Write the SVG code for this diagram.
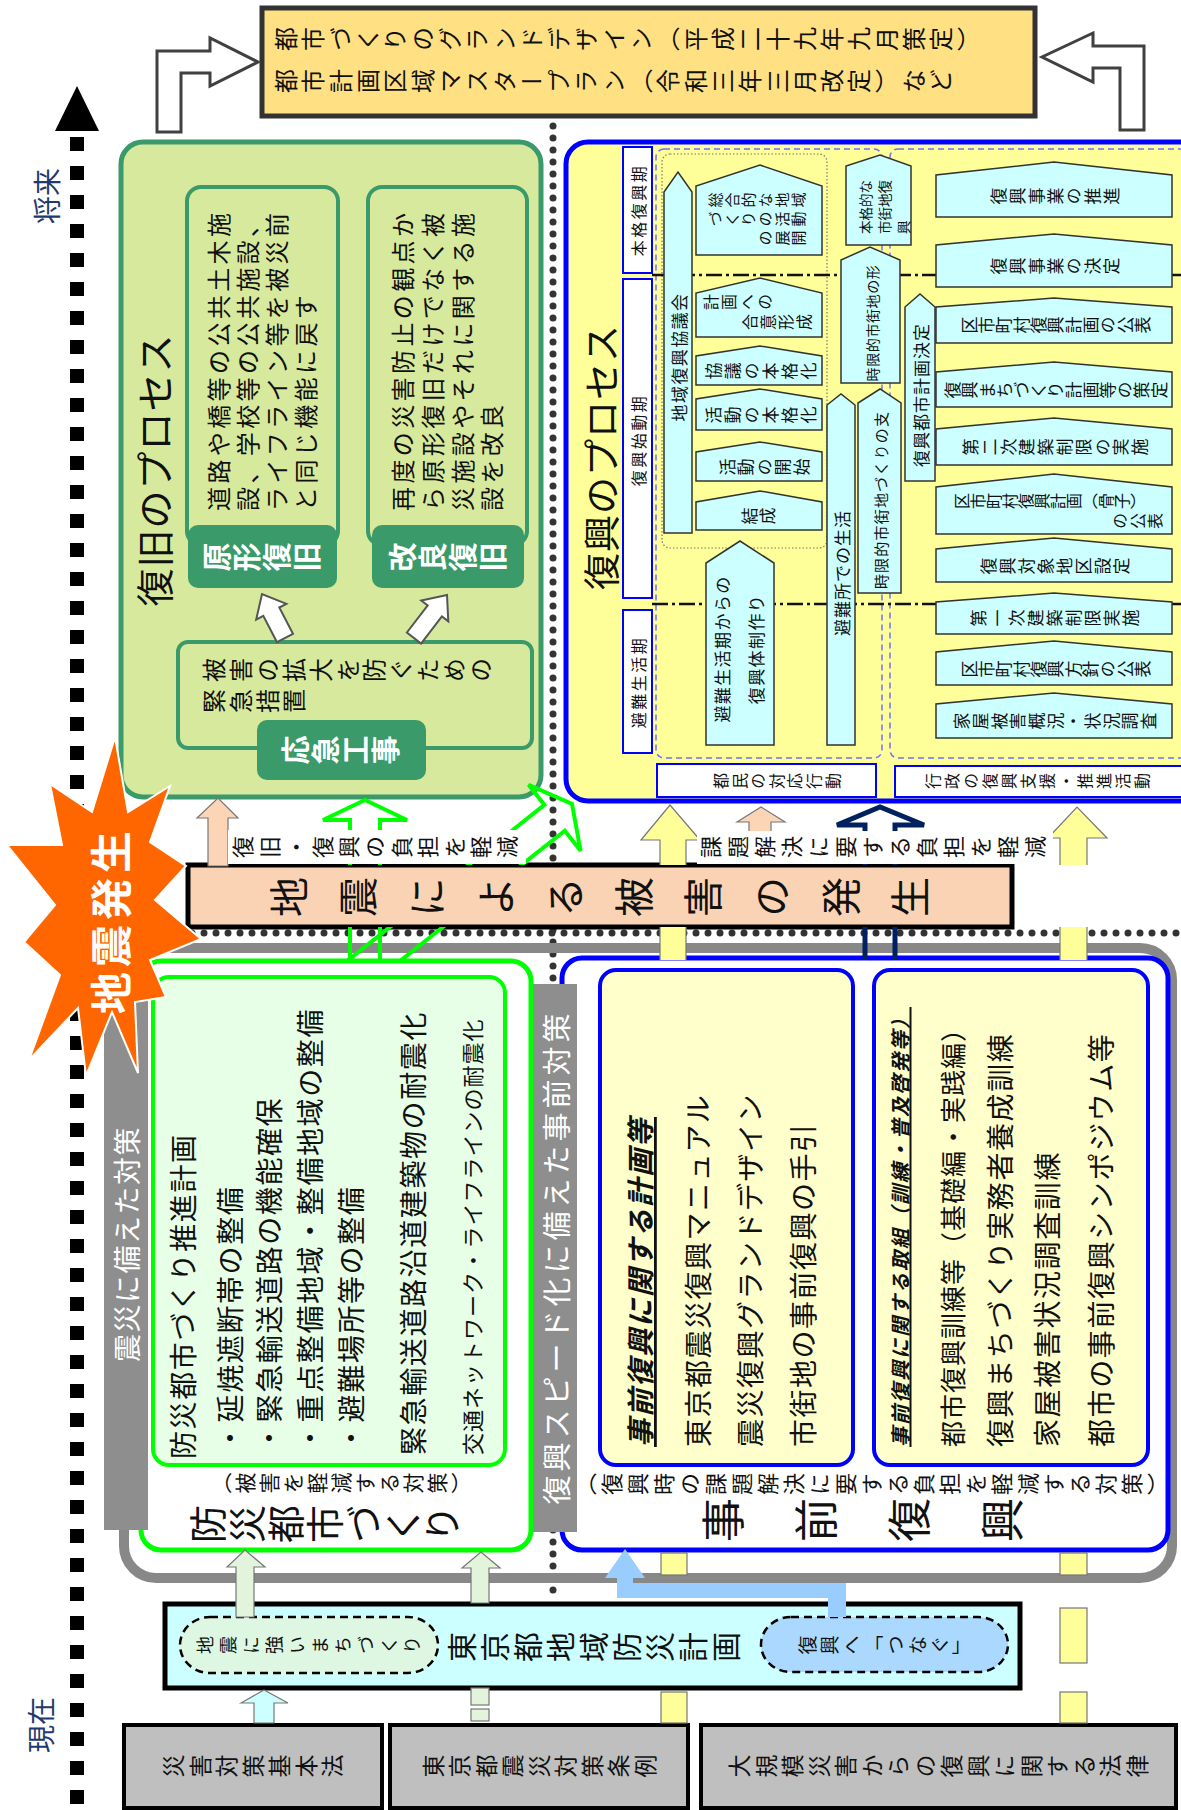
<svg xmlns="http://www.w3.org/2000/svg" width="1181" height="1810" viewBox="0 0 1181 1810">
<defs>
<style>
text{font-family:"Noto Sans CJK JP","Noto Sans CJK SC",sans-serif;fill:#111;}
.v{writing-mode:vertical-rl;}
.h{dominant-baseline:central;}
.m{text-anchor:middle;}
.e{text-anchor:end;}
.w{fill:#fff;}
.b{font-weight:bold;}
.nv{fill:#1F3A6E;}
.sh{fill:#CCFFFF;stroke:#333;stroke-width:1.5;}
.gl{fill:#3A9A6A;}
.gb{fill:#D7E99C;stroke:#3A9A6A;stroke-width:4;}
.pl{fill:#fff;stroke:#0000FF;stroke-width:2;}
.dot{fill:none;stroke:#333;stroke-width:7;stroke-linecap:round;stroke-dasharray:0 12;}
.ya{fill:#FFFF99;stroke:#777;stroke-width:1.2;}
.lg{fill:#E2F5DC;stroke:#777;stroke-width:1.2;}
.law{fill:#BFBFBF;stroke:#000;stroke-width:4;}
.gr{fill:#8E8E8E;}
.it{font-style:italic;font-weight:bold;text-decoration:underline;}
</style>
<clipPath id="noPeach"><rect x="0" y="0" width="1181" height="865"/><rect x="0" y="927" width="1181" height="33"/></clipPath>
</defs>
<rect width="1181" height="1810" fill="#fff"/>

<g id="timeline">
<polygon points="77,86 55,131 99,131" fill="#000"/>
<line x1="77" y1="137" x2="77" y2="1810" stroke="#000" stroke-width="14" stroke-dasharray="14 15"/>
<text class="h m nv" font-size="28" transform="translate(46,196) rotate(-90)">将来</text>
<text class="h m nv" font-size="28" transform="translate(40,1725) rotate(-90)">現在</text>
</g>

<g id="separators">
<line class="dot" x1="553" y1="126" x2="553" y2="1600"/>
<line class="dot" x1="192" y1="933" x2="1181" y2="933"/>
</g>

<g id="grand-design">
<rect x="262" y="8" width="773" height="108" fill="#FFE083" stroke="#333" stroke-width="5"/>
<text class="v" font-size="24" letter-spacing="3.3" transform="translate(274,39) rotate(-90)">都市づくりのグランドデザイン（平成二十九年九月策定）</text>
<text class="v" font-size="24" letter-spacing="3.3" transform="translate(274,81) rotate(-90)">都市計画区域マスタープラン（令和三年三月改定）など</text>
</g>

<g id="fukkyu-process">
<rect x="121" y="142" width="420" height="655" rx="22" fill="#D7E99C" stroke="#3A9A6A" stroke-width="5"/>
<text class="h m" font-size="38" letter-spacing="1" transform="translate(152,470) rotate(-90)">復旧のプロセス</text>
<rect class="gb" x="187" y="187" width="151" height="358" rx="14"/>
<text class="h" font-size="24" letter-spacing="3.4" transform="translate(217,511) rotate(-90)">道路や橋等の公共土木施</text>
<text class="h" font-size="24" letter-spacing="3.4" transform="translate(246,511) rotate(-90)">設、学校等の公共施設、</text>
<text class="h" font-size="24" letter-spacing="3.4" transform="translate(275,511) rotate(-90)">ライフライン等を被災前</text>
<text class="h" font-size="24" letter-spacing="3.4" transform="translate(304,511) rotate(-90)">と同じ機能に戻す</text>
<rect class="gl" x="188" y="525" width="149" height="63" rx="10"/>
<text class="v m w b" font-size="29" letter-spacing="1" transform="translate(262,557) rotate(-90)">原形復旧</text>
<rect class="gb" x="368" y="187" width="159" height="358" rx="14"/>
<text class="h" font-size="24" letter-spacing="3.4" transform="translate(401,511) rotate(-90)">再度の災害防止の観点か</text>
<text class="h" font-size="24" letter-spacing="3.4" transform="translate(431,511) rotate(-90)">ら原形復旧だけでなく被</text>
<text class="h" font-size="24" letter-spacing="3.4" transform="translate(461,511) rotate(-90)">災施設やそれに関する施</text>
<text class="h" font-size="24" letter-spacing="3.4" transform="translate(490,511) rotate(-90)">設を改良</text>
<rect class="gl" x="372" y="525" width="152" height="63" rx="10"/>
<text class="v m w b" font-size="29" letter-spacing="1" transform="translate(448,557) rotate(-90)">改良復旧</text>
<rect class="gb" x="178" y="642" width="354" height="106" rx="10"/>
<text class="v" font-size="24" letter-spacing="2.7" transform="translate(202,670) rotate(-90)">被害の拡大を防ぐための</text>
<text class="v" font-size="24" letter-spacing="2.7" transform="translate(202,701) rotate(-90)">緊急措置</text>
<rect class="gl" x="257" y="720" width="169" height="60" rx="10"/>
<text class="v m w b" font-size="29" letter-spacing="1" transform="translate(341,750) rotate(-90)">応急工事</text>
</g>

<g id="fukko-process">
<rect x="566" y="142" width="640" height="659" rx="22" fill="#FFFF99" stroke="#0000FF" stroke-width="5"/>
<text class="h m" font-size="37" letter-spacing="1" transform="translate(600,457) rotate(-90)">復興のプロセス</text>
<rect class="pl" x="623" y="147" width="29" height="126"/>
<text class="h m" font-size="16" letter-spacing="2.5" transform="translate(637.5,210) rotate(-90)">本格復興期</text>
<rect class="pl" x="623" y="279" width="29" height="319"/>
<text class="h m" font-size="16" letter-spacing="2.5" transform="translate(637.5,440) rotate(-90)">復興始動期</text>
<rect class="pl" x="623" y="610" width="29" height="143"/>
<text class="h m" font-size="16" letter-spacing="2.5" transform="translate(637.5,682) rotate(-90)">避難生活期</text>
<rect x="656" y="149" width="226" height="609" rx="8" fill="none" stroke="#7070FF" stroke-width="1.5" stroke-dasharray="6 4"/>
<rect x="890" y="149" width="310" height="609" rx="8" fill="none" stroke="#7070FF" stroke-width="1.5" stroke-dasharray="6 4"/>
<rect x="662" y="154" width="165" height="394" rx="8" fill="none" stroke="#777" stroke-width="1.2" stroke-dasharray="1.5 2"/>
<line x1="652" y1="275" x2="1181" y2="275" stroke="#111" stroke-width="2.5" stroke-dasharray="16 4 3 4"/>
<line x1="652" y1="604" x2="1181" y2="604" stroke="#111" stroke-width="2.5" stroke-dasharray="16 4 3 4"/>

<polygon class="sh" points="664,533 664,192 678,172 692,192 692,533"/>
<text class="h m" font-size="17" letter-spacing="1.4" transform="translate(678,357) rotate(-90)">地域復興協議会</text>
<polygon class="sh" points="696,255 696,186 760,165 822,186 822,255"/>
<text class="v e" font-size="15" letter-spacing="1.7" transform="translate(808,200) rotate(-90)">総合的な地域</text>
<text class="v e" font-size="15" letter-spacing="1.7" transform="translate(808,219) rotate(-90)">づくりの活動</text>
<text class="v e" font-size="15" letter-spacing="1.7" transform="translate(808,238) rotate(-90)">の展開</text>
<polygon class="sh" points="696,337 696,293 760,278 822,293 822,337"/>
<text class="v" font-size="16" letter-spacing="2" transform="translate(703,302) rotate(-90)">計画への</text>
<text class="v e" font-size="16" letter-spacing="2" transform="translate(814,322) rotate(-90)">合意形成</text>
<polygon class="sh" points="696,385 696,356 760,346 822,356 822,385"/>
<text class="v m" font-size="17" letter-spacing="2" transform="translate(762,371) rotate(-90)">協議の本格化</text>
<polygon class="sh" points="696,430 696,399 760,389 822,399 822,430"/>
<text class="v m" font-size="17" letter-spacing="2" transform="translate(762,415) rotate(-90)">活動の本格化</text>
<polygon class="sh" points="696,481 696,452 760,442 822,452 822,481"/>
<text class="v m" font-size="17" letter-spacing="1.5" transform="translate(765,467) rotate(-90)">活動の開始</text>
<polygon class="sh" points="696,530 696,502 760,491 822,502 822,530"/>
<text class="v m" font-size="17" letter-spacing="1" transform="translate(759,516) rotate(-90)">結成</text>
<polygon class="sh" points="706,745 706,563 740,541 774,563 774,745"/>
<text class="h m" font-size="17" letter-spacing="1.4" transform="translate(721,649) rotate(-90)">避難生活期からの</text>
<text class="h m" font-size="17" letter-spacing="1.4" transform="translate(755,649) rotate(-90)">復興体制作り</text>
<polygon class="sh" points="827,745 827,405 841,394 855,405 855,745"/>
<text class="h m" font-size="17" letter-spacing="1" transform="translate(841,573) rotate(-90)">避難所での生活</text>
<polygon class="sh" points="858,593 858,403 880,389 901,403 901,593"/>
<text class="h m" font-size="15" letter-spacing="1.2" transform="translate(880,500) rotate(-90)">時限的市街地づくりの支</text>
<polygon class="sh" points="841,383 841,260 870,247 900,260 900,383"/>
<text class="h m" font-size="14" letter-spacing="0.6" transform="translate(872,323) rotate(-90)">時限的市街地の形</text>
<polygon class="sh" points="846,245 846,166 880,155 911,166 911,245"/>
<text class="h" font-size="13.5" transform="translate(865,234) rotate(-90)">本格的な</text>
<text class="h" font-size="13.5" transform="translate(884,234) rotate(-90)">市街地復</text>
<text class="h" font-size="13.5" transform="translate(903,234) rotate(-90)">興</text>
<polygon class="sh" points="905,481 905,307 920,294 935,307 935,481"/>
<text class="h m" font-size="17" letter-spacing="1" transform="translate(920,395) rotate(-90)">復興都市計画決定</text>

<polygon class="sh" points="936,217 936,175 1054,162 1172,175 1172,217"/>
<text class="v m" font-size="17" letter-spacing="1.9" transform="translate(1056,196) rotate(-90)">復興事業の推進</text>
<polygon class="sh" points="936,287 936,245 1054,234 1172,245 1172,287"/>
<text class="v m" font-size="17" letter-spacing="1.9" transform="translate(1056,266) rotate(-90)">復興事業の決定</text>
<polygon class="sh" points="936,343 936,307 1054,298 1172,307 1172,343"/>
<text class="v m" font-size="17" letter-spacing="0.3" transform="translate(1056,325) rotate(-90)">区市町村復興計画の公表</text>
<polygon class="sh" points="936,407 936,372 1054,362 1172,372 1172,407"/>
<text class="v m" font-size="17" letter-spacing="0.2" transform="translate(1056,390) rotate(-90)">復興まちづくり計画等の策定</text>
<polygon class="sh" points="936,465 936,429 1054,418 1172,429 1172,465"/>
<text class="v m" font-size="17" letter-spacing="1.8" transform="translate(1056,447) rotate(-90)">第二次建築制限の実施</text>
<polygon class="sh" points="936,534 936,487 1054,474 1172,487 1172,534"/>
<text class="v" font-size="16" transform="translate(954,501) rotate(-90)">区市町村復興計画（骨子）</text>
<text class="v" font-size="16" letter-spacing="1.5" transform="translate(1112,521) rotate(-90)">の公表</text>
<polygon class="sh" points="936,582 936,549 1054,538 1172,549 1172,582"/>
<text class="v m" font-size="17" letter-spacing="2" transform="translate(1056,566) rotate(-90)">復興対象地区設定</text>
<polygon class="sh" points="936,634 936,602 1054,593 1172,602 1172,634"/>
<text class="v m" font-size="17" letter-spacing="2" transform="translate(1056,618) rotate(-90)">第一次建築制限実施</text>
<polygon class="sh" points="936,685 936,652 1054,641 1172,652 1172,685"/>
<text class="v m" font-size="17" letter-spacing="0.3" transform="translate(1056,669) rotate(-90)">区市町村復興方針の公表</text>
<polygon class="sh" points="936,738 936,704 1054,693 1172,704 1172,738"/>
<text class="v m" font-size="17" letter-spacing="1.7" transform="translate(1056,721) rotate(-90)">家屋被害概況・状況調査</text>

<rect class="pl" x="657" y="764" width="219" height="33"/>
<text class="v m" font-size="16" letter-spacing="2.6" transform="translate(778,781) rotate(-90)">都民の対応行動</text>
<rect class="pl" x="895" y="766" width="300" height="31"/>
<text class="v m" font-size="16" letter-spacing="3" transform="translate(1039,781) rotate(-90)">行政の復興支援・推進活動</text>
</g>

<g id="damage">
<rect x="188" y="865" width="824" height="62" fill="#FAD3B4" stroke="#000" stroke-width="5"/>
<text class="v" font-size="40" letter-spacing="29" transform="translate(269,897) rotate(-90)">地震による被害の発生</text>
</g>

<g id="frame">
<rect x="124" y="948" width="1048" height="630" rx="32" fill="none" stroke="#888" stroke-width="10"/>
</g>

<g id="bousai">
<rect x="141" y="961" width="390" height="589" rx="20" fill="#fff" stroke="#00FF00" stroke-width="5"/>
<rect x="153" y="977" width="352" height="488" rx="16" fill="#E6FFE6" stroke="#00FF00" stroke-width="4"/>
<text class="h" font-size="28" letter-spacing="1.6" transform="translate(182,1459) rotate(-90)">防災都市づくり推進計画</text>
<text class="h" font-size="28" letter-spacing="1.6" transform="translate(229,1452) rotate(-90)">・延焼遮断帯の整備</text>
<text class="h" font-size="28" letter-spacing="1.6" transform="translate(268,1452) rotate(-90)">・緊急輸送道路の機能確保</text>
<text class="h" font-size="28" letter-spacing="1.6" transform="translate(309,1452) rotate(-90)">・重点整備地域・整備地域の整備</text>
<text class="h" font-size="28" letter-spacing="1.6" transform="translate(350,1452) rotate(-90)">・避難場所等の整備</text>
<text class="h" font-size="28" letter-spacing="1.6" transform="translate(412,1455) rotate(-90)">緊急輸送道路沿道建築物の耐震化</text>
<text class="h" font-size="22" letter-spacing="1" transform="translate(471,1455) rotate(-90)">交通ネットワーク・ライフラインの耐震化</text>
<text class="v" font-size="21" letter-spacing="3" transform="translate(211,1483) rotate(-90)">（被害を軽減する対策）</text>
<text class="v" font-size="38" letter-spacing="1" transform="translate(189,1524) rotate(-90)">防災都市づくり</text>
</g>

<g id="jizen-fukko">
<rect x="562" y="958" width="606" height="592" rx="20" fill="#fff" stroke="#0000FF" stroke-width="5"/>
<rect x="600" y="970" width="253" height="495" rx="16" fill="#FFFFCC" stroke="#0000FF" stroke-width="4"/>
<text class="h it" font-size="28" letter-spacing="2" transform="translate(639,1447) rotate(-90)">事前復興に関する計画等</text>
<text class="h" font-size="28" letter-spacing="1.5" transform="translate(697,1447) rotate(-90)">東京都震災復興マニュアル</text>
<text class="h" font-size="28" letter-spacing="1.5" transform="translate(749,1447) rotate(-90)">震災復興グランドデザイン</text>
<text class="h" font-size="28" letter-spacing="1.5" transform="translate(802,1447) rotate(-90)">市街地の事前復興の手引</text>
<rect x="874" y="970" width="274" height="495" rx="16" fill="#FFFFCC" stroke="#0000FF" stroke-width="4"/>
<text class="h it" font-size="20" letter-spacing="2" transform="translate(899,1447) rotate(-90)">事前復興に関する取組（訓練・普及啓発等）</text>
<text class="h" font-size="26" letter-spacing="1" transform="translate(951,1447) rotate(-90)">都市復興訓練等（基礎編・実践編）</text>
<text class="h" font-size="28" letter-spacing="1.6" transform="translate(999,1447) rotate(-90)">復興まちづくり実務者養成訓練</text>
<text class="h" font-size="28" letter-spacing="1.6" transform="translate(1046,1447) rotate(-90)">家屋被害状況調査訓練</text>
<text class="h" font-size="28" letter-spacing="1.6" transform="translate(1100,1447) rotate(-90)">都市の事前復興シンポジウム等</text>
<text class="v" font-size="22" letter-spacing="4" transform="translate(575,1484) rotate(-90)">（復興時の課題解決に要する負担を軽減する対策）</text>
<text class="v" font-size="44" letter-spacing="49" transform="translate(701,1520) rotate(-90)">事前復興</text>
</g>

<g id="bar-left">
<rect class="gr" x="104" y="1000" width="44" height="530"/>
<text class="h m w" font-size="28" letter-spacing="1.5" transform="translate(126,1244) rotate(-90)">震災に備えた対策</text>
</g>
<g id="bar-mid">
<rect class="gr" x="533" y="984" width="44" height="548"/>
<text class="h m w" font-size="29" letter-spacing="4" transform="translate(555,1257) rotate(-90)">復興スピード化に備えた事前対策</text>
</g>

<g id="plan">
<rect x="165" y="1604" width="855" height="84" fill="#CCFFFF" stroke="#000" stroke-width="5"/>
<rect x="180" y="1617" width="258" height="56" rx="30" ry="28" fill="#DDF7E3" stroke="#000" stroke-width="2.5" stroke-dasharray="8 5"/>
<text class="v m" font-size="18" letter-spacing="5" transform="translate(311,1645) rotate(-90)">地震に強いまちづくり</text>
<text class="v" font-size="30" letter-spacing="3" transform="translate(447,1647) rotate(-90)">東京都地域防災計画</text>
<rect x="761" y="1617" width="247" height="55" rx="30" ry="28" fill="#AAD8FF" stroke="#000" stroke-width="2.5" stroke-dasharray="8 5"/>
<text class="v m" font-size="19" letter-spacing="3" transform="translate(886,1645) rotate(-90)">復興へ「つなぐ」</text>
</g>

<g id="law1">
<rect class="law" x="124" y="1725" width="258" height="83"/>
<text class="v m" font-size="23" letter-spacing="3.5" transform="translate(255,1766) rotate(-90)">災害対策基本法</text>
</g>
<g id="law2">
<rect class="law" x="390" y="1725" width="298" height="83"/>
<text class="v m" font-size="23" letter-spacing="3.5" transform="translate(541,1766) rotate(-90)">東京都震災対策条例</text>
</g>
<g id="law3">
<rect class="law" x="701" y="1725" width="475" height="83"/>
<text class="v m" font-size="23" letter-spacing="3.5" transform="translate(940,1766) rotate(-90)">大規模災害からの復興に関する法律</text>
</g>

<g id="connectors">
<polygon points="157,132 157,51 210,51 210,38 258,62 210,86 210,73 181,73 181,132" fill="#fff" stroke="#404040" stroke-width="3"/>
<polygon points="1144,130 1144,46 1093,46 1093,33 1042,57 1093,82 1093,68 1120,68 1120,130" fill="#fff" stroke="#404040" stroke-width="3"/>
<polygon points="277,642.2 263.3,615.9 256.2,619.6 262,594 286.4,603.8 279.3,607.5 293,633.8" fill="#fff" stroke="#555" stroke-width="2"/>
<polygon points="406.9,632.5 427.7,605.4 421.3,600.5 447,595 448.3,621.3 441.9,616.4 421.1,643.5" fill="#fff" stroke="#555" stroke-width="2"/>
<polygon points="197,818 218,798 238,818 228,818 228,866 208,866 208,818" fill="#FBD5B5" stroke="#777" stroke-width="1.2"/>
<g clip-path="url(#noPeach)">
<path d="M350,975 V820 H323 L365,800 L407,820 H380 V975" fill="none" stroke="#00FF00" stroke-width="4"/>
<polygon points="329.3,975 382.3,975 564.8,830.7 580.6,850.8 572,804 528.6,784.8 544.4,804.9" fill="none" stroke="#00FF00" stroke-width="4"/>
<polygon class="ya" points="641,840 670,805 700,840 686,840 686,975 660,975 660,840"/>
<polygon class="ya" points="1048,838 1077,807 1107,838 1087,838 1087,975 1060,975 1060,838"/>
<path d="M865,975 V825 H837 L880,807 L924,825 H895 V975" fill="none" stroke="#002060" stroke-width="5"/>
</g>
<polygon points="737,822 761,807 785,822 771,822 771,840 749,840 749,822" fill="#FBD5B5" stroke="#777" stroke-width="1.2"/>
<rect x="228" y="830" width="298" height="34" fill="#fff"/>
<text class="v" font-size="22" letter-spacing="4.4" transform="translate(232,847) rotate(-90)">復旧・復興の負担を軽減</text>
<rect x="697" y="831" width="356" height="33" fill="#fff"/>
<text class="v" font-size="22" letter-spacing="5" transform="translate(700,847) rotate(-90)">課題解決に要する負担を軽減</text>
<rect class="ya" x="661" y="1553" width="26" height="22"/>
<rect class="ya" x="661" y="1692" width="26" height="31"/>
<rect class="ya" x="1060" y="1553" width="27" height="22"/>
<rect class="ya" x="1060" y="1608" width="27" height="55"/>
<rect class="ya" x="1060" y="1692" width="27" height="31"/>
<polygon class="lg" points="227,1567 245,1550 265,1567 254,1567 254,1617 236,1617 236,1567"/>
<polygon class="lg" points="462,1568 481,1552 500,1568 489,1568 489,1603 471,1603 471,1568"/>
<rect class="lg" x="471" y="1688" width="18" height="17"/>
<rect class="lg" x="471" y="1709" width="18" height="12"/>
<polygon points="241,1703 264,1690 288,1703 274,1703 274,1723 254,1723 254,1703" fill="#CCFFFF" stroke="#777" stroke-width="1.2"/>
<polygon points="617,1598 617,1578 605,1578 625,1549 645,1578 633,1578 633,1583 846,1583 846,1617 828,1617 828,1598" fill="#99CCFF"/>
</g>

<g id="starburst">
<polygon points="115,737 128,812 170,786 150,842 186,866 155,900 201,939 150,960 166,997 135,1002 138,1073 112,1012 86,1076 78,1008 29,1060 60,975 24,942 55,905 7,845 62,845 50,784 92,812" fill="#FF6600" stroke="#fff" stroke-width="2"/>
<text class="h m w b" font-size="42" letter-spacing="5" transform="translate(108,920) rotate(-90)">地震発生</text>
</g>
</svg>
